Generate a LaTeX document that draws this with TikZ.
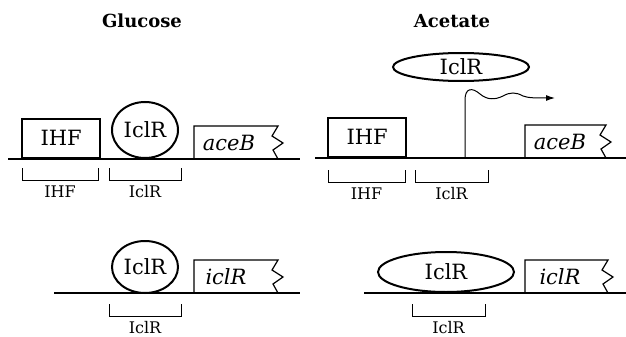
\documentclass[tikz,border=0pt]{standalone}
\usepackage{fontspec}
\setmainfont{DejaVu Serif}
\usetikzlibrary{shapes.geometric,arrows.meta}

\tikzset{
  dna/.style={line width=1.4pt},
  genebox/.style={line width=1.2pt,line join=miter},
  ihfbox/.style={draw,line width=2.4pt,minimum width=78pt,minimum height=39pt,inner sep=0pt,font=\fontsize{21}{23}\selectfont},
  protein/.style={draw,ellipse,line width=2pt,inner sep=0pt,font=\fontsize{21}{23}\selectfont},
  genetext/.style={font=\fontsize{21}{23}\selectfont\itshape},
  bracket/.style={line width=0.9pt},
  sitelabel/.style={font=\fontsize{16}{18}\selectfont},
  condition/.style={font=\fontsize{18}{20}\selectfont\bfseries},
}

\begin{document}
\begin{tikzpicture}[x=1pt,y=-1pt]
\useasboundingbox (0,0) rectangle (626,337);

% conditions
\node[condition] (glucose) at (142,21) {Glucose};
\node[condition] (acetate) at (452,21) {Acetate};

% glucose, aceB
\draw[dna] (8,159) -- (300,159);
\node[ihfbox,anchor=south west] (ihf1) at (21,159) {IHF};
\node[protein,minimum width=66pt,minimum height=56pt] (iclr1) at (145,130) {IclR};
\draw[genebox] (194,159) -- (194,126) -- (278,126) -- (272,136) -- (283,143) -- (273,150) -- (278,159);
\node[genetext] (aceB1) at (229,143) {aceB};

% acetate, aceB
\draw[dna] (315,158) -- (626,158);
\node[ihfbox,anchor=south west] (ihf2) at (327,158) {IHF};
\node[protein,minimum width=136pt,minimum height=28pt] (iclr2) at (461,67) {IclR};
\draw[genebox] (525,158) -- (525,125) -- (606,125) -- (600,135) -- (611,142) -- (601,149) -- (606,158);
\node[genetext] (aceB2) at (560,142) {aceB};
\draw[line width=1pt,-{Latex[length=9pt,width=6pt]}] (465,158) -- (465,100)
  .. controls (465,88) and (472,87) .. (480,94)
  .. controls (487,100) and (495,100) .. (503,96)
  .. controls (510,92) and (516,92) .. (523,96)
  .. controls (528,98) and (536,98) .. (555,98);

% glucose, iclR
\draw[dna] (54,293) -- (300,293);
\node[protein,minimum width=66pt,minimum height=52pt] (iclr3) at (145,267) {IclR};
\draw[genebox] (194,293) -- (194,260) -- (278,260) -- (272,270) -- (283,277) -- (273,284) -- (278,293);
\node[genetext] (iclR1) at (226,277) {iclR};

% acetate, iclR
\draw[dna] (364,293) -- (626,293);
\node[protein,minimum width=136pt,minimum height=40pt] (iclr4) at (446,272) {IclR};
\draw[genebox] (525,293) -- (525,260) -- (608,260) -- (602,270) -- (613,277) -- (603,284) -- (608,293);
\node[genetext] (iclR2) at (560,277) {iclR};

% binding sites
\foreach \a/\b/\y/\t in {22/98/168/IHF, 109/181/168/IclR, 328/405/170/IHF, 415/488/170/IclR, 109/181/304/IclR, 412/485/304/IclR}
{
  \draw[bracket] (\a,\y) |- (\b,\y+12) -- (\b,\y);
  \node[sitelabel] at ({(\a+\b)/2},\y+24) {\t};
}

\end{tikzpicture}
\end{document}
